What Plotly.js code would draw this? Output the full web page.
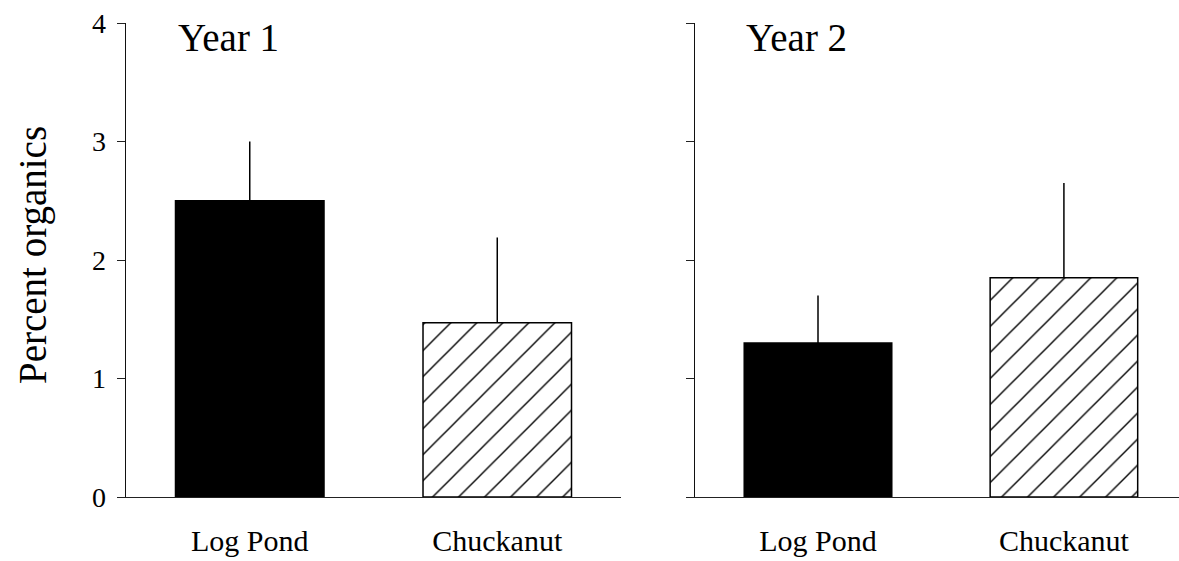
<!DOCTYPE html>
<html>
<head>
<meta charset="utf-8">
<script src="https://cdn.plot.ly/plotly-3.0.1.min.js"></script>
<style>
  html, body { margin: 0; padding: 0; background: #ffffff; }
  #chart { width: 1179px; height: 561px; }
</style>
</head>
<body>
<div id="chart"></div>
<script>
// Sites sampled in each year
const sites = ["Log Pond", "Chuckanut"];

// Mean percent organics and upper error (SE) per site
const year1Means = [2.5, 1.47];
const year1Err = [0.5, 0.72];
const year2Means = [1.3, 1.85];
const year2Err = [0.4, 0.8];

const panelTitles = ["Year 1", "Year 2"];
const yTitle = "Percent organics";
const yTicks = [0, 1, 2, 3, 4];

const serif = "Liberation Serif";

// One bar per trace: Log Pond solid black, Chuckanut hatched
function barTrace(i, means, errs, xa, ya) {
  const hatched = i === 1;
  return {
    type: "bar",
    x: [sites[i]],
    y: [means[i]],
    xaxis: xa,
    yaxis: ya,
    width: 0.6,
    marker: {
      color: hatched ? "#ffffff" : "#000000",
      line: { color: "#000000", width: 1.5 },
      pattern: hatched
        ? { shape: "/", fgcolor: "#000000", fgopacity: 1, bgcolor: "#ffffff",
            size: 18.4, solidity: 0.075, fillmode: "overlay" }
        : { shape: "" }
    },
    error_y: {
      type: "data",
      symmetric: false,
      array: [errs[i]],
      arrayminus: [0],
      width: 0,
      thickness: 1.5,
      color: "#000000"
    },
    hoverinfo: "x+y",
    showlegend: false
  };
}

const data = [
  barTrace(0, year1Means, year1Err, "x", "y"),
  barTrace(1, year1Means, year1Err, "x", "y"),
  barTrace(0, year2Means, year2Err, "x2", "y2"),
  barTrace(1, year2Means, year2Err, "x2", "y2")
];

const xCommon = {
  type: "category",
  categoryorder: "array",
  categoryarray: sites,
  showline: true,
  linecolor: "#222222",
  linewidth: 1,
  ticks: "",
  showgrid: false,
  zeroline: false,
  tickfont: { family: serif, size: 30, color: "#000000" },
  ticklabelstandoff: 17,
  fixedrange: true
};

const yCommon = {
  range: [0, 4],
  tickvals: yTicks,
  ticktext: yTicks.map(String),
  ticks: "outside",
  ticklen: 8,
  tickwidth: 1,
  tickcolor: "#222222",
  showline: true,
  linecolor: "#111111",
  linewidth: 1.5,
  showgrid: false,
  zeroline: false,
  tickfont: { family: serif, size: 28, color: "#000000" },
  ticklabelstandoff: 5,
  fixedrange: true
};

const layout = {
  width: 1179,
  height: 561,
  margin: { l: 126, r: 0, t: 23, b: 64, pad: 0 },
  paper_bgcolor: "#ffffff",
  plot_bgcolor: "#ffffff",
  font: { family: serif, color: "#000000" },
  showlegend: false,
  barmode: "overlay",
  xaxis: Object.assign({}, xCommon, {
    domain: [0, 0.4701],
    range: [-0.5, 1.5],
    anchor: "y"
  }),
  xaxis2: Object.assign({}, xCommon, {
    domain: [0.5404, 1],
    range: [-0.5, 1.468],
    anchor: "y2"
  }),
  yaxis: Object.assign({}, yCommon, { anchor: "x" }),
  yaxis2: Object.assign({}, yCommon, {
    anchor: "x2",
    showticklabels: false
  }),
  annotations: [
    {
      text: yTitle,
      xref: "x domain", yref: "y domain",
      x: 0, y: 0.5,
      xshift: -93, yshift: 5,
      textangle: -90,
      xanchor: "center", yanchor: "middle",
      showarrow: false,
      font: { family: serif, size: 39, color: "#000000" }
    },
    {
      text: panelTitles[0],
      xref: "x domain", yref: "y domain",
      x: 0.1, y: 1, yshift: 9,
      xanchor: "left", yanchor: "top",
      showarrow: false,
      font: { family: serif, size: 39, color: "#000000" }
    },
    {
      text: panelTitles[1],
      xref: "x2 domain", yref: "y2 domain",
      x: 0.102, y: 1, yshift: 9,
      xanchor: "left", yanchor: "top",
      showarrow: false,
      font: { family: serif, size: 39, color: "#000000" }
    }
  ]
};

Plotly.newPlot("chart", data, layout, { displayModeBar: false, staticPlot: true });
</script>
</body>
</html>
